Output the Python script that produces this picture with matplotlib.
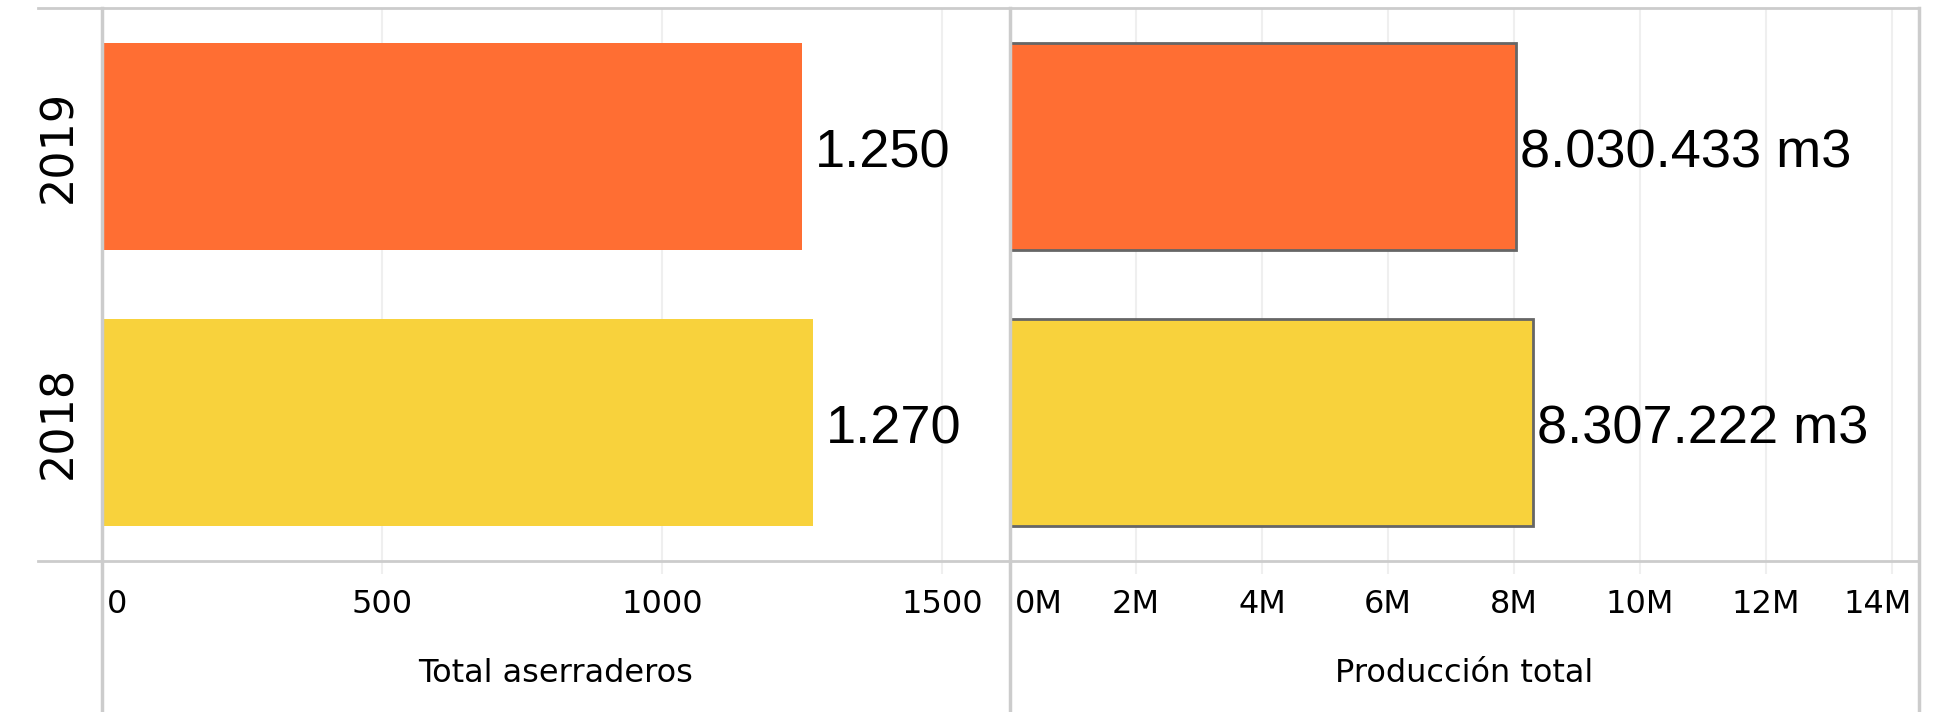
import numpy as np
import matplotlib
matplotlib.use("Agg")
from matplotlib import pyplot as plt
from matplotlib.lines import Line2D
from matplotlib.transforms import ScaledTranslation

years = ["2018", "2019"]
aserraderos = [1270, 1250]
produccion = [8307222, 8030433]
bar_colors = ["#F8D23C", "#FF6E33"]

left_ticks = [0, 500, 1000, 1500]
right_ticks = [0, 2e6, 4e6, 6e6, 8e6, 10e6, 12e6, 14e6]
right_tick_labels = ["0M", "2M", "4M", "6M", "8M", "10M", "12M", "14M"]

line_gray = "#cccccc"
grid_gray = "#efefef"


def es_num(v):
    return f"{v:,}".replace(",", ".")


fig = plt.figure(figsize=(19.42, 7.12), dpi=100)
W, H = 1942, 712
ax1 = fig.add_axes([102 / W, 1 - 561 / H, 908 / W, 553 / H])
ax2 = fig.add_axes([1010 / W, 1 - 561 / H, 909 / W, 553 / H])

y = np.arange(len(years))

ax1.barh(y, aserraderos, height=0.75, color=bar_colors, zorder=2)
ax2.barh(y, produccion, height=0.75, color=bar_colors, edgecolor="#666666",
         linewidth=2, zorder=2)

for v, yy in zip(aserraderos, y):
    ax1.annotate(es_num(v), (v, yy), xytext=(9, -1), textcoords="offset points",
                 va="center_baseline", ha="left", fontsize=39,
                 family="Liberation Sans")
for v, yy in zip(produccion, y):
    ax2.annotate(es_num(v) + " m3", (v, yy), xytext=(3, -1),
                 textcoords="offset points", va="center_baseline", ha="left",
                 fontsize=39, family="Liberation Sans")

ax1.set_xlim(0, 1621)
ax2.set_xlim(0, 14.43e6)
for ax in (ax1, ax2):
    ax.set_ylim(-0.5, 1.5)
    for s in ax.spines.values():
        s.set_visible(False)
    ax.grid(axis="x", color=grid_gray, linewidth=1.5, zorder=0)
    ax.tick_params(axis="x", length=9.5, width=1.5, color=grid_gray, pad=11,
                   labelsize=23)

ax1.set_xticks(left_ticks)
ax1.set_xticklabels([str(t) for t in left_ticks])
ax2.set_xticks(right_ticks)
ax2.set_xticklabels(right_tick_labels)

ax1.set_yticks(y)
ax1.set_yticklabels(years, rotation=90, va="center", fontsize=32)
ax1.tick_params(axis="y", length=0, pad=16)
ax2.set_yticks([])

# edge labels nudged inside like the original
first = ax1.get_xticklabels()[0]
first.set_horizontalalignment("left")
first.set_transform(first.get_transform() + ScaledTranslation(5 / 100, 0, fig.dpi_scale_trans))
first = ax2.get_xticklabels()[0]
first.set_horizontalalignment("left")
first.set_transform(first.get_transform() + ScaledTranslation(5 / 100, 0, fig.dpi_scale_trans))
last = ax2.get_xticklabels()[-1]
last.set_horizontalalignment("right")
last.set_transform(last.get_transform() + ScaledTranslation(20 / 100, 0, fig.dpi_scale_trans))

ax1.set_xlabel("Total aserraderos", fontsize=23, labelpad=27)
ax2.set_xlabel("Producción total", fontsize=23, labelpad=27)

# frame lines
p1 = ax1.get_position()
p2 = ax2.get_position()
x0 = 38 / W
for yy in (p1.y0, p1.y1):
    fig.add_artist(Line2D([x0, p2.x1], [yy, yy], transform=fig.transFigure,
                          color=line_gray, linewidth=2))
for xx in (p1.x0, p2.x0, p2.x1):
    fig.add_artist(Line2D([xx, xx], [0, p1.y1], transform=fig.transFigure,
                          color=line_gray, linewidth=2.5))

fig.savefig("out.png", dpi=100)
